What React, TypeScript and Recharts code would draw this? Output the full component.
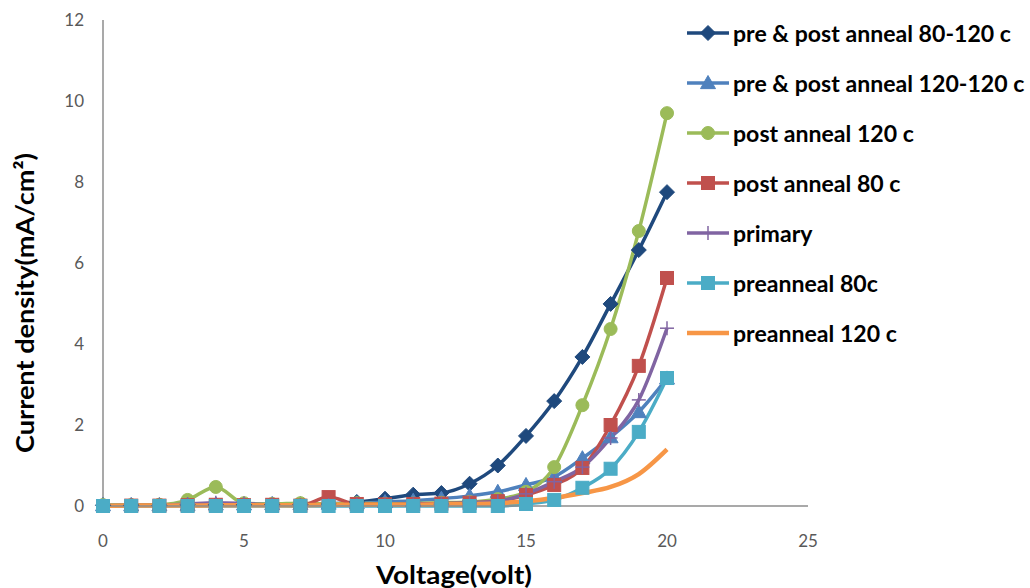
import React from 'react';
import { LineChart, Line, XAxis, YAxis } from 'recharts';

const voltage = [0, 1, 2, 3, 4, 5, 6, 7, 8, 9, 10, 11, 12, 13, 14, 15, 16, 17, 18, 19, 20];
const prePost80_120 = [0.02, 0.02, 0.02, 0.03, 0.03, 0.03, 0.04, 0.04, 0.05, 0.1, 0.18, 0.28, 0.32, 0.55, 1.0, 1.73, 2.59, 3.68, 4.99, 6.32, 7.75];
const prePost120_120 = [0.02, 0.02, 0.02, 0.03, 0.04, 0.04, 0.05, 0.05, 0.06, 0.07, 0.1, 0.13, 0.18, 0.25, 0.35, 0.52, 0.72, 1.18, 1.7, 2.32, 3.15];
const post120 = [0.02, 0.02, 0.03, 0.15, 0.47, 0.07, 0.05, 0.07, 0.05, 0.07, 0.05, 0.06, 0.08, 0.1, 0.17, 0.35, 0.96, 2.49, 4.37, 6.79, 9.7];
const post80 = [0.0, 0.01, 0.01, 0.02, 0.03, 0.02, 0.03, 0.01, 0.22, 0.05, 0.04, 0.05, 0.06, 0.08, 0.12, 0.27, 0.52, 0.94, 2.0, 3.46, 5.63];
const primary = [0.0, 0.01, 0.02, 0.05, 0.08, 0.06, 0.03, 0.02, 0.02, 0.03, 0.03, 0.04, 0.05, 0.08, 0.12, 0.3, 0.6, 0.96, 1.68, 2.62, 4.39];
const pre80 = [0, 0, 0, 0, 0, 0, 0, 0, 0, 0, 0, 0, 0, 0, 0, 0.05, 0.15, 0.45, 0.92, 1.83, 3.16];
const pre120 = [0.0, 0.01, 0.01, 0.01, 0.02, 0.02, 0.02, 0.02, 0.03, 0.03, 0.03, 0.03, 0.04, 0.05, 0.07, 0.12, 0.2, 0.32, 0.47, 0.79, 1.4];

const xTicks = [0, 5, 10, 15, 20, 25];
const yTicks = [0, 2, 4, 6, 8, 10, 12];

const seriesDefs = [
  { key: 's1', name: 'pre & post anneal 80-120 c', values: prePost80_120, color: '#1F497D', marker: 'diamond' },
  { key: 's2', name: 'pre & post anneal 120-120 c', values: prePost120_120, color: '#4F81BD', marker: 'triangle' },
  { key: 's3', name: 'post anneal 120 c', values: post120, color: '#9BBB59', marker: 'circle' },
  { key: 's4', name: 'post anneal 80 c', values: post80, color: '#C0504D', marker: 'square' },
  { key: 's5', name: 'primary', values: primary, color: '#8064A2', marker: 'plus' },
  { key: 's6', name: 'preanneal 80c', values: pre80, color: '#4BACC6', marker: 'square' },
  { key: 's7', name: 'preanneal 120 c', values: pre120, color: '#F79646', marker: 'none' },
];

const data = voltage.map((v, i) => {
  const row: Record<string, number> = { v };
  seriesDefs.forEach((s) => {
    row[s.key] = s.values[i];
  });
  return row;
});

const FONT = 'Lato, "Open Sans", sans-serif';

function MarkerShape({ cx, cy, type, color }: { cx: number; cy: number; type: string; color: string }) {
  if (cx == null || cy == null || type === 'none') return null;
  switch (type) {
    case 'diamond': {
      const r = 7.5;
      return <path d={`M${cx},${cy - r}L${cx + r},${cy}L${cx},${cy + r}L${cx - r},${cy}Z`} fill={color} stroke={color} strokeWidth={1} />;
    }
    case 'triangle': {
      const r = 7.5;
      return <path d={`M${cx},${cy - r}L${cx + r},${cy + r * 0.75}L${cx - r},${cy + r * 0.75}Z`} fill={color} stroke={color} strokeWidth={1} />;
    }
    case 'circle':
      return <circle cx={cx} cy={cy} r={6.5} fill={color} stroke={color} strokeWidth={1} />;
    case 'square':
      return <rect x={cx - 6.5} y={cy - 6.5} width={13} height={13} fill={color} stroke={color} strokeWidth={1} />;
    case 'plus':
      return (
        <g stroke={color} strokeWidth={1.5}>
          <line x1={cx - 7} y1={cy} x2={cx + 7} y2={cy} />
          <line x1={cx} y1={cy - 7} x2={cx} y2={cy + 7} />
        </g>
      );
    default:
      return null;
  }
}

const tickStyle = { fontFamily: FONT, fontSize: 17, fill: '#595959' };

export default function App() {
  return (
    <div style={{ position: 'absolute', left: 0, top: 0, width: 1030, height: 588, background: '#fff' }}>
      <LineChart width={1030} height={588} data={data} margin={{ top: 20, right: 222, bottom: 0, left: 0 }}>
        <XAxis
          dataKey="v"
          type="number"
          domain={[0, 25]}
          ticks={xTicks}
          tickLine={false}
          tickSize={0}
          tickMargin={29}
          height={82}
          axisLine={{ stroke: '#8C8C8C', strokeWidth: 1.5 }}
          tick={tickStyle}
          label={{
            content: () => (
              <text
                x={376}
                y={584}
                textLength={156}
                lengthAdjust="spacingAndGlyphs"
                fontFamily={FONT}
                fontWeight={700}
                fontSize={24}
                fill="#000"
              >
                Voltage(volt)
              </text>
            ),
          }}
        />
        <YAxis
          type="number"
          domain={[0, 12]}
          ticks={yTicks}
          tickLine={false}
          tickSize={0}
          tickMargin={19}
          width={103}
          axisLine={{ stroke: '#8C8C8C', strokeWidth: 1.5 }}
          tick={tickStyle}
          label={{
            content: () => (
              <text
                x={0}
                y={0}
                transform="translate(34,453) rotate(-90)"
                textLength={300}
                lengthAdjust="spacingAndGlyphs"
                fontFamily={FONT}
                fontWeight={700}
                fontSize={24}
                fill="#000"
              >
                Current density(mA/cm²)
              </text>
            ),
          }}
        />
        {seriesDefs.map((s) => (
          <Line
            key={s.key}
            dataKey={s.key}
            name={s.name}
            type="monotone"
            stroke={s.color}
            strokeWidth={s.marker === 'none' ? 4.5 : 3.5}
            isAnimationActive={false}
            dot={(p: any) => <MarkerShape key={`${s.key}-${p.index}`} cx={p.cx} cy={p.cy} type={s.marker} color={s.color} />}
            activeDot={false}
          />
        ))}
      </LineChart>
      <div style={{ position: 'absolute', left: 685, top: 8, width: 345, display: 'flex', flexDirection: 'column' }}>
        {seriesDefs.map((s) => (
          <div key={s.key} style={{ display: 'flex', alignItems: 'center', height: 50 }}>
            <svg width={46} height={20} style={{ flex: 'none' }}>
              <line x1={2} y1={10} x2={44} y2={10} stroke={s.color} strokeWidth={s.marker === 'none' ? 4.5 : 3.5} />
              <MarkerShape cx={23} cy={10} type={s.marker} color={s.color} />
            </svg>
            <span
              style={{
                marginLeft: 2,
                fontFamily: FONT,
                fontWeight: 700,
                fontSize: 22,
                color: '#000',
                whiteSpace: 'nowrap',
                display: 'inline-block',
                transform: 'scaleX(1.05)',
                transformOrigin: 'left center',
              }}
            >
              {s.name}
            </span>
          </div>
        ))}
      </div>
    </div>
  );
}
